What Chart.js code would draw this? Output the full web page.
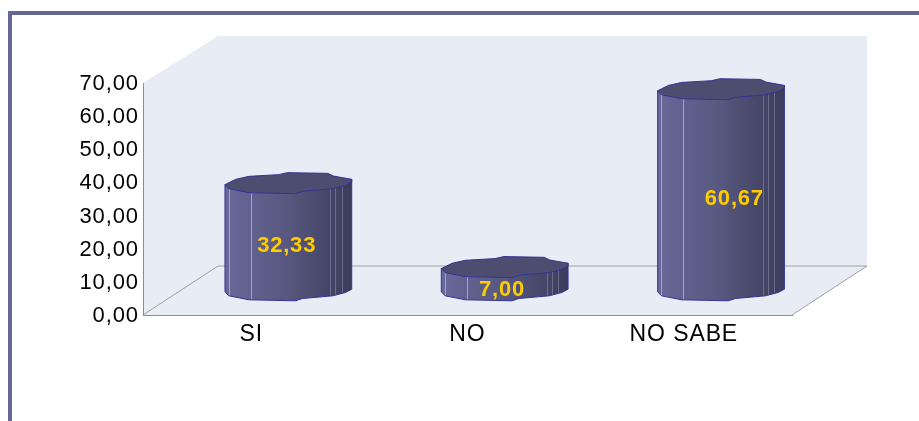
<!DOCTYPE html>
<html>
<head>
<meta charset="utf-8">
<style>
    html, body { margin: 0; padding: 0; background: #fff; overflow: hidden; }
    #frame { position: absolute; left: 8px; top: 11px; width: 911px; height: 410px; border-left: 4px solid #666699; border-top: 4px solid #666699; box-sizing: border-box; }
    canvas { position: absolute; left: 0; top: 0; }
</style>
<script src="https://cdn.jsdelivr.net/npm/chart.js@4"></script>
</head>
<body>
<div id="frame"></div>
<canvas id="chart" width="919" height="421"></canvas>
<script>
const categories = ['SI', 'NO', 'NO SABE'];
const percentages = [32.33, 7.00, 60.67];
const axisMax = 70;
const axisStep = 10;

// shift of the back wall from the front of the plot, in pixels
const depthX = 75;
const depthY = -49;
const wallTopY = -47;
const labelShift = [[-2, 9], [-3, 11], [13, 9]];
const facetLines = [0.024, 0.2, 0.83, 0.87, 0.92];

// outline of the faceted cylinder, as fractions of its radii
const rimBack = [[-1.01, 0.13], [-0.84, -0.4], [-0.63, -0.7], [-0.16, -0.87], [-0.02, -1.07], [0.62, -1], [0.71, -0.73], [1, -0.4]];
const rimFront = [[1, -0.13], [0.9, 0.2], [0.7, 0.53], [0.22, 0.8], [0.11, 1.03], [-0.63, 0.93], [-0.95, 0.53]];

const fmt = v => v.toFixed(2).replace('.', ',');

const scenePlugin = {
    id: 'scene',
    beforeDraw(chart) {
        const { ctx, chartArea: a } = chart;
        ctx.save();
        ctx.fillStyle = '#e8ecf4';
        ctx.beginPath();
        ctx.moveTo(a.left, a.top);
        ctx.lineTo(a.left + depthX, a.top + wallTopY);
        ctx.lineTo(a.right + depthX, a.top + wallTopY);
        ctx.lineTo(a.right + depthX, a.bottom + depthY);
        ctx.lineTo(a.right, a.bottom);
        ctx.lineTo(a.left, a.bottom);
        ctx.closePath();
        ctx.fill();

        ctx.strokeStyle = '#a0a0a0';
        ctx.lineWidth = 1;
        ctx.beginPath();
        ctx.moveTo(a.left, a.bottom);
        ctx.lineTo(a.left + depthX, a.bottom + depthY);
        ctx.lineTo(a.right + depthX, a.bottom + depthY);
        ctx.lineTo(a.right, a.bottom);
        ctx.stroke();
        ctx.restore();
        ctx.letterSpacing = '0.9px';
    },
    beforeDatasetDraw() {
        return false;
    },
    afterDatasetsDraw(chart) {
        const { ctx } = chart;
        ctx.save();
        ctx.letterSpacing = '0.8px';
        chart.getDatasetMeta(0).data.forEach((bar, i) => {
            const cx = bar.x + depthX / 2;
            const rx = bar.width / 2;
            const ry = 10;
            const topY = bar.y + depthY / 2;
            const baseY = bar.base + depthY / 2;
            const at = (p, y) => [cx + p[0] * rx, y + p[1] * ry];

            const grad = ctx.createLinearGradient(cx - rx, 0, cx + rx, 0);
            grad.addColorStop(0, '#68689a');
            grad.addColorStop(0.5, '#57577f');
            grad.addColorStop(0.8, '#464668');
            grad.addColorStop(1, '#3c3c5c');

            // body: right side down, front of the bottom ring, left side up
            const body = new Path2D();
            body.moveTo(...at(rimBack[rimBack.length - 1], topY));
            rimFront.forEach(p => body.lineTo(...at(p, baseY)));
            body.lineTo(...at(rimBack[0], baseY));
            body.lineTo(...at(rimBack[0], topY));
            body.closePath();
            ctx.fillStyle = grad;
            ctx.fill(body);

            ctx.save();
            ctx.clip(body);
            ctx.lineWidth = 1;
            facetLines.forEach((f, n) => {
                const x = Math.round(cx - rx + f * 2 * rx) + 0.5;
                ctx.strokeStyle = n < 2 ? 'rgba(190,190,225,0.7)' : 'rgba(170,170,205,0.4)';
                ctx.beginPath();
                ctx.moveTo(x, topY);
                ctx.lineTo(x, baseY + ry * 2);
                ctx.stroke();
            });
            ctx.restore();

            ctx.strokeStyle = '#333399';
            ctx.lineWidth = 1;
            ctx.stroke(body);

            ctx.beginPath();
            rimBack.concat(rimFront).forEach((p, k) => {
                const q = at(p, topY);
                k ? ctx.lineTo(q[0], q[1]) : ctx.moveTo(q[0], q[1]);
            });
            ctx.closePath();
            ctx.fillStyle = '#4d4d70';
            ctx.fill();
            ctx.strokeStyle = '#333399';
            ctx.stroke();

            ctx.fillStyle = '#ffcc00';
            ctx.font = 'bold 22px "Liberation Sans", Arial, sans-serif';
            ctx.textAlign = 'center';
            ctx.textBaseline = 'middle';
            ctx.fillText(fmt(percentages[i]), cx + labelShift[i][0], (topY + baseY) / 2 + labelShift[i][1]);
        });
        ctx.restore();
    }
};

new Chart(document.getElementById('chart'), {
    type: 'bar',
    data: {
        labels: categories,
        datasets: [{
            data: percentages,
            backgroundColor: '#57577f',
            barPercentage: 0.583,
            categoryPercentage: 1
        }]
    },
    options: {
        responsive: false,
        animation: false,
        layout: { padding: { top: 83, right: 127, left: 0, bottom: 0 } },
        plugins: { legend: { display: false }, tooltip: { enabled: false } },
        scales: {
            x: {
                afterFit(scale) { scale.height = 106; },
                grid: { display: false, drawTicks: false },
                border: { color: '#8c8c8c', width: 1 },
                ticks: { color: '#000', padding: 6, maxRotation: 0, font: { family: '"Liberation Sans", Arial, sans-serif', size: 23 } }
            },
            y: {
                min: 0,
                max: axisMax,
                afterFit(scale) { scale.width = 143; },
                grid: { display: false, drawTicks: false },
                border: { color: '#8c8c8c', width: 1 },
                ticks: {
                    stepSize: axisStep,
                    color: '#000',
                    padding: 4,
                    labelOffset: 1,
                    callback: v => fmt(v),
                    font: { family: '"Liberation Sans", Arial, sans-serif', size: 22 }
                }
            }
        }
    },
    plugins: [scenePlugin]
});
</script>
</body>
</html>
